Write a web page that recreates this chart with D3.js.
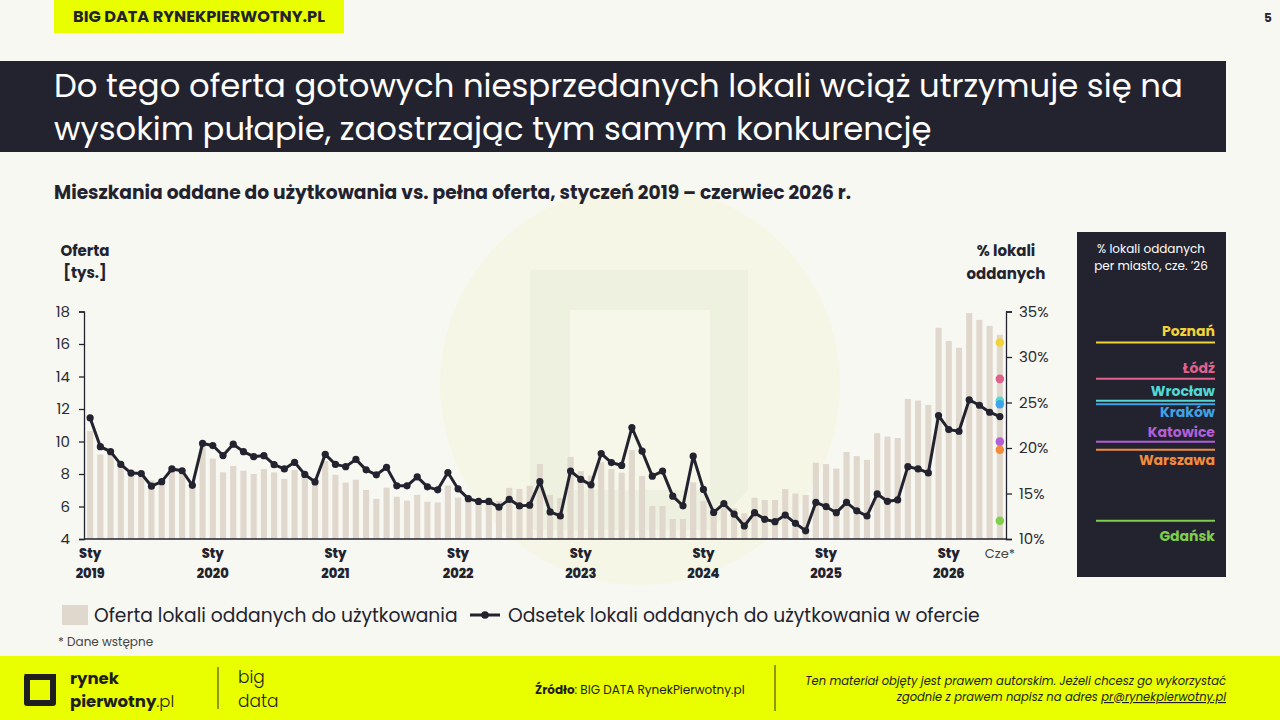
<!DOCTYPE html>
<html><head><meta charset="utf-8">
<script src="https://cdn.jsdelivr.net/npm/d3@7"></script>
<style>
html,body{margin:0;padding:0;background:#f8f8f3;}
svg{display:block;}
text{font-family:Poppins,Inter,"Noto Sans",sans-serif;}
</style></head>
<body>
<svg id="chart" width="1280" height="720"></svg>
<script>
// ---------- DATA ----------
const months = d3.range(90); // Jan 2019 .. Jun 2026
const offer = [
 10.65,9.2,9.3,8.55,8.05,8.0,7.6,7.55,8.2,8.1,7.25,9.8,
 8.95,8.1,8.5,8.2,8.0,8.3,8.1,7.7,8.25,7.9,7.55,8.8,
 7.95,7.47,7.65,7.02,6.47,7.16,6.6,6.36,6.72,6.3,6.25,7.29,
 6.55,6.34,6.2,6.55,6.34,7.15,7.08,7.27,8.62,6.72,6.53,9.05,
 8.18,7.9,8.72,8.3,8.08,9.47,7.87,6.03,6.03,5.23,5.23,7.49,
 6.34,5.8,5.9,5.89,5.58,6.54,6.4,6.4,7.07,6.8,6.7,8.69,
 8.61,8.34,9.35,9.1,8.87,10.51,10.3,10.22,12.62,12.52,12.25,17.0,
 16.18,15.77,17.9,17.49,17.12,16.57
];
const share = [
 23.3,20.15,19.6,18.2,17.25,17.2,15.8,16.3,17.7,17.5,15.9,20.5,
 20.27,19.17,20.42,19.6,19.05,19.16,18.17,17.7,18.43,17.1,16.27,19.3,
 18.2,17.95,18.75,17.6,17.05,17.88,15.84,15.84,16.83,15.73,15.4,17.3,
 15.5,14.43,14.13,14.13,13.5,14.36,13.64,13.72,16.3,12.98,12.53,17.47,
 16.55,15.95,19.39,18.4,18.08,22.25,19.65,16.9,17.46,14.71,13.65,19.1,
 15.45,12.92,13.88,12.74,11.43,12.89,12.16,11.9,12.63,11.72,10.9,14.02,
 13.55,12.89,14.02,13.1,12.53,14.95,14.14,14.29,17.95,17.7,17.26,23.56,
 22.02,21.84,25.29,24.7,23.93,23.45
];
const leftTicks = [4,6,8,10,12,14,16,18];
const rightTicks = [10,15,20,25,30,35];
const yearLabels = ["2019","2020","2021","2022","2023","2024","2025","2026"];
const janLabel = "Sty";
const lastLabel = "Cze*";
const cities = ["Poznań","Łódź","Wrocław","Kraków","Katowice","Warszawa","Gdańsk"];
const cityShare = [31.6,27.6,25.2,24.8,20.7,19.8,12.0];
const cityColors = ["#f2d33a","#e0628c","#52d8d4","#3ea3e8","#b25fd8","#f28b3c","#7fcf4c"];
const cityLabelOffset = [-6,-6,-5,13,-5,15,20];

// ---------- LAYOUT ----------
const svg = d3.select("#chart");
const dark = "#23232f", barColor = "#e0d7cd", lime = "#e9ff00";
const L = 84, R = 1006, T = 311.5, B = 539;

function fit(sel, w){
  const n = sel.node(); const fs = parseFloat(sel.attr("font-size"));
  const len = n.getComputedTextLength();
  sel.attr("font-size", (fs*w/len).toFixed(2));
}

// background watermark
svg.append("rect").attr("width",1280).attr("height",720).attr("fill","#f8f8f3");
svg.append("circle").attr("cx",640).attr("cy",385).attr("r",200).attr("fill","#f6f6e6");
svg.append("path").attr("d","M530,270 L748,270 L748,490 L710,530 L530,530 Z").attr("fill","#eff1e0");
svg.append("rect").attr("x",570).attr("y",310).attr("width",140).attr("height",180).attr("fill","#f6f7e8");

// top tag
svg.append("rect").attr("x",54).attr("y",0).attr("width",290).attr("height",33).attr("fill",lime);
const tag = svg.append("text").attr("x",73).attr("y",22).attr("font-size",14).attr("font-weight",700)
  .attr("fill",dark).text("BIG DATA RYNEKPIERWOTNY.PL");
fit(tag,252);
svg.append("text").attr("x",1268).attr("y",22).attr("font-size",12).attr("font-weight",700)
  .attr("text-anchor","middle").attr("fill",dark).text("5");

// title band
svg.append("rect").attr("x",0).attr("y",61).attr("width",1226).attr("height",91).attr("fill",dark);
const t1 = svg.append("text").attr("x",54).attr("y",97).attr("font-size",30).attr("fill","#fff")
  .text("Do tego oferta gotowych niesprzedanych lokali wciąż utrzymuje się na");
fit(t1,1129);
svg.append("text").attr("x",54).attr("y",140).attr("font-size",t1.attr("font-size")).attr("fill","#fff")
  .text("wysokim pułapie, zaostrzając tym samym konkurencję");

// subtitle
const st = svg.append("text").attr("x",54).attr("y",199).attr("font-size",17).attr("font-weight",700)
  .attr("fill",dark).text("Mieszkania oddane do użytkowania vs. pełna oferta, styczeń 2019 – czerwiec 2026 r.");
fit(st,797);

// scales
const x = d3.scaleBand().domain(months).range([L,R]).paddingInner(0.4).paddingOuter(0.3);
const yL = d3.scaleLinear().domain([4,18]).range([B,T]);
const yR = d3.scaleLinear().domain([10,35]).range([B,T]);

// bars
svg.append("g").selectAll("rect").data(offer).join("rect")
  .attr("x",(d,i)=>x(i)).attr("width",x.bandwidth())
  .attr("y",d=>yL(d)).attr("height",d=>yL(4)-yL(d)).attr("fill",barColor);

// axes
const axL = svg.append("g").attr("transform",`translate(${L},0)`)
  .call(d3.axisLeft(yL).tickValues(leftTicks).tickSize(5).tickPadding(9));
const axR = svg.append("g").attr("transform",`translate(${R},0)`)
  .call(d3.axisRight(yR).tickValues(rightTicks).tickSize(6).tickPadding(7).tickFormat(d=>d+"%"));
[axL,axR].forEach(a=>{
  a.select(".domain").attr("stroke",dark).attr("stroke-width",1.3);
  a.selectAll(".tick line").attr("stroke",dark).attr("stroke-width",1.3);
  a.selectAll(".tick text").attr("font-size",15).attr("fill","#2a2a33")
    .attr("font-family","Poppins,Inter,sans-serif");
});
svg.append("line").attr("x1",L).attr("x2",R).attr("y1",B).attr("y2",B).attr("stroke",dark).attr("stroke-width",1.3);

// x labels
const gx = svg.append("g");
yearLabels.forEach((yr,k)=>{
  const cx = x(k*12)+x.bandwidth()/2;
  gx.append("text").attr("x",cx).attr("y",558).attr("text-anchor","middle").attr("font-size",13)
    .attr("font-weight",800).attr("fill",dark).text(janLabel);
  gx.append("text").attr("x",cx).attr("y",578).attr("text-anchor","middle").attr("font-size",13)
    .attr("font-weight",800).attr("fill",dark).text(yr);
});
gx.append("text").attr("x",x(89)+x.bandwidth()/2).attr("y",558).attr("text-anchor","middle")
  .attr("font-size",13).attr("fill","#444").text(lastLabel);

// axis titles
[["Oferta",256],["[tys.]",278]].forEach(([s,y])=>svg.append("text").attr("x",85).attr("y",y)
  .attr("text-anchor","middle").attr("font-size",15).attr("font-weight",700).attr("fill",dark).text(s));
[["% lokali",256],["oddanych",279]].forEach(([s,y])=>svg.append("text").attr("x",1006).attr("y",y)
  .attr("text-anchor","middle").attr("font-size",15).attr("font-weight",700).attr("fill",dark).text(s));

// line
const cxm = i=>x(i)+x.bandwidth()/2;
svg.append("path").datum(share).attr("fill","none").attr("stroke",dark).attr("stroke-width",3)
  .attr("stroke-linejoin","round")
  .attr("d",d3.line().x((d,i)=>cxm(i)).y(d=>yR(d)));
svg.append("g").selectAll("circle").data(share).join("circle")
  .attr("cx",(d,i)=>cxm(i)).attr("cy",d=>yR(d)).attr("r",3.6).attr("fill",dark);

// city dots
svg.append("g").selectAll("circle").data(cityShare).join("circle")
  .attr("cx",cxm(89)).attr("cy",d=>yR(d)).attr("r",4.3).attr("fill",(d,i)=>cityColors[i]);

// right panel
svg.append("rect").attr("x",1077).attr("y",232).attr("width",149).attr("height",345).attr("fill",dark);
[["% lokali oddanych",253],["per miasto, cze. ’26",270]].forEach(([s,y])=>svg.append("text")
  .attr("x",1151).attr("y",y).attr("text-anchor","middle").attr("font-size",12).attr("fill","#fff").text(s));
const pg = svg.append("g");
cities.forEach((c,i)=>{
  const yy = yR(cityShare[i]);
  pg.append("line").attr("x1",1096).attr("x2",1215).attr("y1",yy).attr("y2",yy)
    .attr("stroke",cityColors[i]).attr("stroke-width",2);
  pg.append("text").attr("x",1215).attr("y",yy+cityLabelOffset[i])
    .attr("text-anchor","end").attr("font-size",14).attr("font-weight",700)
    .attr("fill",cityColors[i]).text(c);
});

// legend
svg.append("rect").attr("x",62).attr("y",605).attr("width",26).attr("height",20).attr("fill",barColor);
const lg1 = svg.append("text").attr("x",94).attr("y",622).attr("font-size",19).attr("fill",dark)
  .text("Oferta lokali oddanych do użytkowania");
fit(lg1,364);
svg.append("line").attr("x1",470).attr("x2",500).attr("y1",615).attr("y2",615).attr("stroke",dark).attr("stroke-width",3);
svg.append("circle").attr("cx",485).attr("cy",615).attr("r",3.8).attr("fill",dark);
const lg2 = svg.append("text").attr("x",508).attr("y",622).attr("font-size",19).attr("fill",dark)
  .text("Odsetek lokali oddanych do użytkowania w ofercie");
fit(lg2,472);
svg.append("text").attr("x",58).attr("y",646).attr("font-size",12).attr("fill","#444").text("* Dane wstępne");

// footer
svg.append("rect").attr("x",0).attr("y",656).attr("width",1280).attr("height",64).attr("fill",lime);
svg.append("path").attr("d","M27,677 L53,677 L53,703 L27,703 Z").attr("fill","none").attr("stroke","#1e1e1e").attr("stroke-width",6).attr("stroke-linejoin","round");
svg.append("path").attr("d","M24,674 L56,674 L56,679 L29,679 Z").attr("fill","#1e1e1e");
svg.append("text").attr("x",70).attr("y",684).attr("font-size",16.5).attr("font-weight",700).attr("fill","#1e1e1e").text("rynek");
const pw = svg.append("text").attr("x",70).attr("y",707).attr("font-size",16.5).attr("fill","#1e1e1e");
pw.append("tspan").attr("font-weight",700).text("pierwotny");
pw.append("tspan").attr("font-weight",300).text(".pl");
svg.append("line").attr("x1",218).attr("x2",218).attr("y1",667).attr("y2",709).attr("stroke","#333").attr("stroke-width",1);
svg.append("text").attr("x",238).attr("y",683).attr("font-size",17).attr("font-weight",300).attr("fill","#1e1e1e").text("big");
svg.append("text").attr("x",238).attr("y",707).attr("font-size",17).attr("font-weight",300).attr("fill","#1e1e1e").text("data");
const src = svg.append("text").attr("x",535).attr("y",694).attr("font-size",12).attr("fill","#1e1e1e");
src.append("tspan").attr("font-weight",700).text("Źródło");
src.append("tspan").text(": BIG DATA RynekPierwotny.pl");
svg.append("line").attr("x1",775).attr("x2",775).attr("y1",665).attr("y2",711).attr("stroke","#333").attr("stroke-width",1);
svg.append("text").attr("x",1226).attr("y",685).attr("text-anchor","end").attr("font-size",11.5)
  .attr("font-style","italic").attr("fill","#1e1e1e")
  .text("Ten materiał objęty jest prawem autorskim. Jeżeli chcesz go wykorzystać");
const cr = svg.append("text").attr("x",1226).attr("y",701).attr("text-anchor","end").attr("font-size",11.5)
  .attr("font-style","italic").attr("fill","#1e1e1e");
cr.append("tspan").text("zgodnie z prawem napisz na adres ");
cr.append("tspan").attr("text-decoration","underline").text("pr@rynekpierwotny.pl");
</script>
</body></html>
